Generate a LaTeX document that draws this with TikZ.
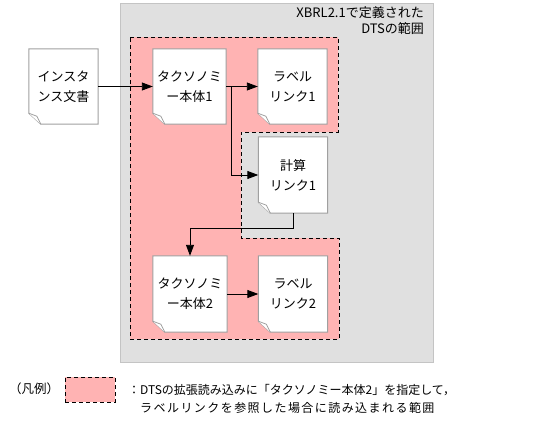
\documentclass[tikz,border=0pt]{standalone}
\usepackage{fontspec}
\setmainfont{Noto Sans CJK JP}
\usetikzlibrary{arrows.meta}
\pgfdeclarelayer{back}
\pgfdeclarelayer{paper}
\pgfsetlayers{back,paper,main}
\definecolor{dtsgray}{RGB}{224,224,224}
\definecolor{dtsedge}{RGB}{196,196,196}
\definecolor{extpink}{RGB}{255,179,179}
\definecolor{docedge}{RGB}{160,160,160}
\tikzset{
  doc/.style={minimum width=69pt, minimum height=75pt, inner sep=0pt,
    align=center, font=\fontsize{13}{20}\selectfont},
  flow/.style={line width=0.9pt, -{Triangle[length=11pt,width=8pt]}},
  extent/.style={fill=extpink, draw=black, line width=0.9pt, dash pattern=on 4pt off 3pt}
}

\begin{document}
\begin{tikzpicture}[x=1pt, y=-1pt]
        \useasboundingbox (0,0) rectangle (537,431);

        % documents
        \node[doc] (inst) at (63.5,86.5) {インスタ\\ンス文書};
        \node[doc, minimum width=73pt] (tax1) at (189.5,86.5) {タクソノミ\\ー本体1};
        \node[doc] (lab1) at (292.5,86.5) {ラベル\\リンク1};
        \node[doc, minimum height=76pt] (calc1) at (293,175) {計算\\リンク1};
        \node[doc, minimum width=74pt, minimum height=76pt] (tax2) at (190,294) {タクソノミ\\ー本体2};
        \node[doc, minimum height=76pt] (lab2) at (293,294) {ラベル\\リンク2};

        \begin{pgfonlayer}{back}
            \draw [fill=dtsgray, draw=dtsedge, line width=1pt] (120,3) rectangle (433,362);
            \draw [extent] (130,37) -- (338,37) -- (338,132) -- (241,132) -- (241,238)
                -- (339,238) -- (339,339) -- (130,339) -- cycle;
        \end{pgfonlayer}

        \begin{pgfonlayer}{paper}
            \foreach \n in {inst,tax1,lab1,calc1,tax2,lab2} {
                \draw [fill=white, draw=docedge, line width=1pt] (\n.north west) -- (\n.north east)
                    -- (\n.south east) -- ([xshift=12pt]\n.south west)
                    -- ([yshift=11pt]\n.south west) -- cycle;
                \draw [fill=white, draw=docedge, line width=0.8pt] ([yshift=11pt]\n.south west)
                    -- ([xshift=8pt,yshift=8pt]\n.south west) -- ([xshift=12pt]\n.south west);
            }
        \end{pgfonlayer}

        \node[anchor=north east, align=right, inner sep=0pt, font=\fontsize{13}{16}\selectfont]
            (title) at (424,6) {XBRL2.1で定義された\\DTSの範囲};

        % connectors
        \coordinate (fork) at (231,86.5);
        \coordinate (drop) at (293,228);
        \draw [flow] (inst) -- (tax1);
        \draw [flow] (tax1) -- (lab1);
        \draw [flow] (fork) |- (calc1);
        \draw [flow] (calc1) -- (drop) -| (tax2);
        \draw [flow] (tax2) -- (lab2);

        % legend
        \node[anchor=west, inner sep=0pt, font=\fontsize{12.5}{16}\selectfont] (legend) at (9,389) {（凡例）};
        \node[extent, minimum width=50pt, minimum height=25pt, inner sep=0pt] (swatch) at (90,389.5) {};
        \node[anchor=north west, align=left, inner sep=0pt, font=\fontsize{12}{18}\selectfont]
            (note) at (128,384) {：DTSの拡張読み込みに「タクソノミー本体2」を指定して，\\
            \hspace*{1em}{\addfontfeature{LetterSpace=12}ラベルリンクを参照した場合に読み込まれる範囲}};
\end{tikzpicture}
\end{document}
